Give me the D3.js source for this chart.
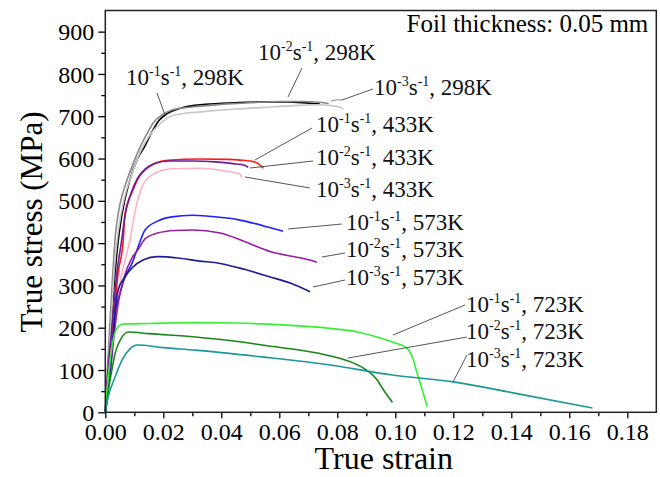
<!DOCTYPE html>
<html>
<head>
<meta charset="utf-8">
<script src="https://cdn.jsdelivr.net/npm/d3@7"></script>
<style>
    body { margin: 0; background: #fff; }
    svg { display: block; }
    svg text { font-family: "Times New Roman", "Liberation Serif", Times, serif; }
</style>
</head>
<body>
<script>
// tick values of the axes
var xTicks = [0, 0.02, 0.04, 0.06, 0.08, 0.10, 0.12, 0.14, 0.16, 0.18],
    yTicks = [0, 100, 200, 300, 400, 500, 600, 700, 800, 900];

// strain rates and temperatures of the curves (same order as the curves)
var rates = ["-1", "-2", "-3", "-1", "-2", "-3", "-1", "-2", "-3", "-1", "-2", "-3"],
    temps = ["298K", "298K", "298K", "433K", "433K", "433K", "573K", "573K", "573K", "723K", "723K", "723K"];

// [true strain, true stress (MPa)]
var c298a = [[0,0],[0.0008,60],[0.0018,170],[0.0028,280],[0.0042,390],[0.0058,470],[0.0085,550],[0.011,598],[0.0137,630],[0.016,662],[0.0185,690],[0.0213,706],[0.0265,720],[0.0344,728],[0.045,732],[0.055,734],[0.063,734],[0.07,731],[0.074,729]],
    c298b = [[0,0],[0.0006,80],[0.0015,200],[0.0025,320],[0.0035,420],[0.005,490],[0.0075,549],[0.010,595],[0.012,627],[0.0145,660],[0.0165,684],[0.02,705],[0.023,715],[0.03,722],[0.04,728],[0.05,732],[0.06,735],[0.068,735],[0.074,733],[0.077,730]],
    c298c = [[0,0],[0.0008,70],[0.002,210],[0.003,330],[0.0045,430],[0.0065,505],[0.009,560],[0.012,615],[0.015,652],[0.019,683],[0.024,703],[0.034,711],[0.045,717],[0.055,721],[0.065,725],[0.073,727],[0.078,725],[0.081,721],[0.082,717]],
    c433a = [[0,0],[0.001,93],[0.0022,171],[0.0033,250],[0.0044,328],[0.0062,407],[0.0068,470],[0.0096,526],[0.011,549],[0.0137,573],[0.0172,589],[0.0216,596],[0.0326,599],[0.042,598],[0.05,594],[0.0525,589],[0.0545,577]],
    c433b = [[0,0],[0.0008,90],[0.002,180],[0.003,260],[0.004,330],[0.0055,400],[0.0068,465],[0.009,520],[0.011,552],[0.0137,575],[0.017,588],[0.022,594],[0.03,594],[0.038,592],[0.044,588],[0.048,584],[0.0493,579]],
    c433c = [[0,0],[0.001,80],[0.0025,170],[0.004,260],[0.0055,320],[0.0072,370],[0.0085,407],[0.010,465],[0.0113,505],[0.013,538],[0.0165,563],[0.023,576],[0.0326,577],[0.04,572],[0.0465,563],[0.047,556]],
    c573a = [[0,0],[0.0008,50],[0.0016,93],[0.0025,160],[0.0034,234],[0.0051,282],[0.0068,320],[0.0092,352],[0.0113,391],[0.0137,431],[0.018,452],[0.023,462],[0.03,466],[0.041,460],[0.046,455],[0.051,447],[0.056,438],[0.0613,428]],
    c573b = [[0,0],[0.0008,45],[0.0018,100],[0.003,180],[0.0045,260],[0.0065,320],[0.0092,365],[0.0113,385],[0.0137,410],[0.018,424],[0.024,430],[0.03,431],[0.0396,424],[0.048,404],[0.0568,380],[0.068,364],[0.073,355]],
    c573c = [[0,0],[0.0008,40],[0.0016,100],[0.0027,180],[0.0035,249],[0.0044,289],[0.0068,320],[0.0092,341],[0.013,360],[0.018,368],[0.025,365],[0.032,358],[0.0396,352],[0.048,338],[0.0568,320],[0.064,305],[0.0706,285]],
    c723a = [[0,0],[0.0005,45],[0.001,80],[0.002,140],[0.003,180],[0.005,206],[0.0068,209],[0.015,210],[0.031,212],[0.045,211],[0.054,209],[0.0765,199],[0.087,190],[0.0937,178],[0.099,166],[0.104,152],[0.106,128],[0.1075,93],[0.109,60],[0.111,13]],
    c723b = [[0,0],[0.0008,40],[0.002,90],[0.0034,140],[0.0055,175],[0.0079,190],[0.015,186],[0.031,178],[0.045,168],[0.054,159],[0.0765,135],[0.085,118],[0.09,100],[0.0937,77],[0.096,52],[0.099,24]],
    c723c = [[0,0],[0.001,36],[0.0034,84],[0.0058,124],[0.0085,150],[0.011,159],[0.02,153],[0.031,147],[0.054,131],[0.0775,112],[0.099,88],[0.12,72],[0.1406,46],[0.168,10]];

var curves = [c298a, c298b, c298c, c433a, c433b, c433c, c573a, c573b, c573c, c723a, c723b, c723c];

// line colours
var colors = ["#000000", "#8a8a8a", "#c6c6c6", "#ff1a1a", "#6a1b9a", "#ffb3c0",
              "#1f1fff", "#951f9f", "#1c1c96", "#33f033", "#1a861a", "#1a9898"];

// label position (text x, baseline y) and leader line [x1, y1, x2, y2], in pixels
var notes = [
    {tx: 126, ty: 85,  line: [157, 93, 165, 115]},
    {tx: 258, ty: 60,  line: [302, 68, 288, 97]},
    {tx: 374, ty: 95,  line: [373, 89, 342, 100]},
    {tx: 316, ty: 132, line: [312, 128, 255, 160]},
    {tx: 316, ty: 165, line: [313, 161, 250, 168]},
    {tx: 316, ty: 197, line: [310, 188, 245, 177]},
    {tx: 346, ty: 230, line: [342, 224, 288, 229]},
    {tx: 346, ty: 257, line: [345, 253, 322, 257]},
    {tx: 346, ty: 285, line: [345, 280, 313, 287]},
    {tx: 466, ty: 312, line: [465, 305, 393, 335]},
    {tx: 466, ty: 339, line: [467, 337, 348, 358]},
    {tx: 466, ty: 367, line: [467, 355, 453, 382]}
];

window.onload = function() {
    makeGraph();
};

/*
 * Draw the stress-strain chart.
 */
function makeGraph()
{
    var width = 660,
        height = 477,
        left = 105.3,
        right = 656.3,
        top = 10.5,
        bottom = 412.3;

    var svg = d3.select("body").append("svg")
        .attr("width", width)
        .attr("height", height);

    var x = d3.scaleLinear().domain([0, 0.19]).range([left, right]);
    var y = d3.scaleLinear().domain([0, 950]).range([bottom, top]);

    // minor ticks halfway between the major ones
    var xMinor = d3.range(0.01, 0.19, 0.02);
    var yMinor = d3.range(50, 950, 100);

    // x axis
    var xAxis = svg.append("g")
        .attr("transform", "translate(0," + bottom + ")")
        .call(d3.axisBottom(x).tickValues(xTicks).tickFormat(d3.format(".2f"))
              .tickSize(6).tickPadding(3));
    svg.append("g")
        .attr("transform", "translate(0," + bottom + ")")
        .call(d3.axisBottom(x).tickValues(xMinor).tickFormat("").tickSize(4));

    // y axis
    var yAxis = svg.append("g")
        .attr("transform", "translate(" + left + ",0)")
        .call(d3.axisLeft(y).tickValues(yTicks).tickSize(7).tickPadding(4));
    svg.append("g")
        .attr("transform", "translate(" + left + ",0)")
        .call(d3.axisLeft(y).tickValues(yMinor).tickFormat("").tickSize(4));

    svg.selectAll("g").attr("font-family", null).attr("font-size", null);
    svg.selectAll(".domain").remove();
    svg.selectAll(".tick line").attr("stroke", "#000").attr("stroke-width", 1.3);
    svg.selectAll(".tick text")
        .style("font-size", "24px")
        .attr("fill", "#000");
    xAxis.selectAll(".tick text").attr("dy", "0.78em");
    yAxis.selectAll(".tick text").attr("dy", "0.34em");

    // curves
    var line = d3.line()
        .x(function(d) { return x(d[0]); })
        .y(function(d) { return y(d[1]); })
        .curve(d3.curveMonotoneX);

    svg.selectAll(".curve")
        .data(curves)
        .enter()
        .append("path")
            .attr("class", "curve")
            .attr("d", line)
            .attr("fill", "none")
            .attr("stroke", function(d, i) { return colors[i]; })
            .attr("stroke-width", 1.6);

    // leader lines
    svg.selectAll(".leader")
        .data(notes)
        .enter()
        .append("line")
            .attr("class", "leader")
            .attr("x1", function(d) { return d.line[0]; })
            .attr("y1", function(d) { return d.line[1]; })
            .attr("x2", function(d) { return d.line[2]; })
            .attr("y2", function(d) { return d.line[3]; })
            .attr("stroke", "#555")
            .attr("stroke-width", 1);

    // small hook on the 10^-3 s^-1, 298K leader
    svg.append("path")
        .attr("d", "M331,101 Q338,99 342,100")
        .attr("fill", "none")
        .attr("stroke", "#888")
        .attr("stroke-width", 1);

    // labels like 10^-1 s^-1, 298K
    notes.forEach(function(n, i) {
        var t = svg.append("text")
            .attr("x", n.tx)
            .attr("y", n.ty)
            .style("font-size", "23px")
            .attr("fill", "#111");
        t.append("tspan").text("10");
        t.append("tspan").attr("dy", -9).style("font-size", "14px").text(rates[i]);
        t.append("tspan").attr("dy", 9).text("s");
        t.append("tspan").attr("dy", -9).style("font-size", "14px").text("-1");
        t.append("tspan").attr("dy", 9).text(", " + temps[i]);
    });

    // frame
    svg.append("rect")
        .attr("x", left)
        .attr("y", top)
        .attr("width", right - left)
        .attr("height", bottom - top)
        .attr("fill", "none")
        .attr("stroke", "#222")
        .attr("stroke-width", 1.5);

    // foil thickness note
    svg.append("text")
        .attr("x", right - 8)
        .attr("y", 32)
        .attr("text-anchor", "end")
        .style("font-size", "25px")
        .text("Foil thickness: 0.05 mm");

    // axis titles
    svg.append("text")
        .attr("x", (left + right) / 2 + 3)
        .attr("y", 469)
        .attr("text-anchor", "middle")
        .style("font-size", "32px")
        .text("True strain");

    svg.append("text")
        .attr("transform", "translate(42,222) rotate(-90)")
        .attr("text-anchor", "middle")
        .style("font-size", "31px")
        .text("True stress (MPa)");
}
</script>
</body>
</html>
